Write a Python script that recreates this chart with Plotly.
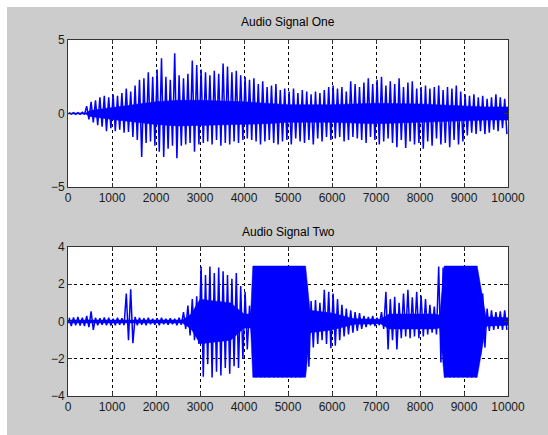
import plotly.graph_objects as go

# Per-bin (100 samples each) peak envelope
bin_size = 100
sig1_hi = [0.05, 0.06, 0.05, 0.08, 0.5, 0.8, 0.9, 1.1, 1.2, 1.1,
           1.3, 1.2, 1.4, 1.7, 1.5, 1.9, 2.3, 2.4, 2.8, 2.5,
           3.0, 3.75, 2.5, 2.3, 4.1, 2.6, 2.4, 2.7, 3.6, 3.3,
           3.0, 2.8, 2.6, 2.9, 2.7, 3.4, 3.2, 2.8, 2.9, 2.6,
           2.5, 2.3, 2.4, 2.0, 2.2, 1.8, 1.9, 2.0, 1.6, 1.7,
           1.5, 1.7, 1.4, 1.6, 1.5, 1.3, 1.5, 1.4, 1.6, 1.8,
           1.9, 1.7, 1.8, 1.5, 2.2, 2.0, 1.8, 2.1, 2.4, 2.0,
           2.3, 2.5, 1.9, 2.2, 2.0, 2.4, 1.8, 2.1, 2.2, 1.7,
           1.8, 1.9, 1.7, 1.8, 1.9, 1.6, 1.8, 1.7, 1.9, 1.5,
           1.3, 1.2, 1.3, 1.1, 1.2, 1.0, 1.1, 1.3, 1.1, 1.0]
sig1_lo = [-0.04, -0.06, -0.05, -0.07, -0.4, -0.6, -0.8, -0.9, -1.2, -1.0,
           -1.2, -1.1, -1.3, -1.25, -1.6, -1.8, -2.95, -2.0, -1.9, -2.2,
           -2.6, -2.95, -2.4, -2.2, -3.05, -2.2, -2.1, -2.0, -2.6, -2.1,
           -2.0, -1.9, -2.1, -1.8, -2.2, -2.0, -2.1, -1.9, -2.0, -1.8,
           -1.7, -1.8, -1.9, -2.1, -1.9, -1.8, -2.0, -2.1, -1.9, -1.8,
           -2.1, -1.7, -1.9, -2.0, -1.8, -2.1, -1.7, -1.9, -1.6, -1.8,
           -1.7, -1.6, -1.9, -1.8, -1.6, -1.7, -1.8, -2.0, -1.6, -1.8,
           -2.1, -1.9, -1.7, -2.0, -2.3, -1.8, -2.35, -1.9, -2.1, -2.0,
           -2.4, -1.9, -2.2, -1.7, -2.1, -2.0, -2.3, -1.8, -2.1, -1.9,
           -1.5, -1.3, -1.4, -1.2, -1.4, -1.3, -1.1, -1.2, -1.0, -1.4]

sig2_hi = [0.2, 0.22, 0.25, 0.2, 0.3, 0.55, 0.2, 0.18, 0.22, 0.2,
           0.15, 0.2, 0.18, 1.5, 1.73, 0.25, 0.2, 0.18, 0.2, 0.15,
           0.18, 0.2, 0.15, 0.18, 0.15, 0.2, 0.5, 0.85, 1.2, 1.35,
           2.95, 2.5, 2.95, 2.6, 2.9, 2.7, 2.5, 2.3, 2.6, 1.9,
           1.6, 0.85, 2.98, 2.98, 2.98, 2.98, 2.98, 2.98, 2.98, 2.98,
           2.98, 2.98, 2.98, 2.98, 1.96, 1.1, 1.15, 1.0, 1.7, 1.6,
           1.5, 1.2, 0.9, 0.7, 0.6, 0.5, 0.45, 0.3, 0.25, 0.3,
           0.2, 0.5, 1.6, 1.2, 1.33, 1.0, 1.5, 1.7, 1.3, 1.6,
           1.4, 1.2, 0.9, 0.8, 2.95, 2.9, 2.98, 2.98, 2.98, 2.98,
           2.98, 2.98, 2.98, 2.05, 1.5, 0.7, 0.6, 0.5, 0.55, 0.6]
sig2_lo = [-0.25, -0.2, -0.22, -0.25, -0.3, -0.45, -0.2, -0.18, -0.2, -0.22,
           -0.2, -0.18, -0.2, -1.0, -1.17, -0.2, -0.18, -0.2, -0.15, -0.18,
           -0.2, -0.15, -0.17, -0.15, -0.2, -0.18, -0.4, -0.75, -1.0, -1.2,
           -2.97, -2.3, -3.0, -2.7, -2.9, -2.5, -2.8, -2.4, -2.5, -2.0,
           -1.5, -0.6, -3.0, -3.0, -3.0, -3.0, -3.0, -3.0, -3.0, -3.0,
           -3.0, -3.0, -3.0, -2.9, -2.43, -1.4, -1.2, -1.0, -1.2, -1.44,
           -1.3, -1.0, -0.8, -0.7, -0.6, -0.5, -0.4, -0.3, -0.2, -0.25,
           -0.2, -0.4, -1.5, -1.0, -1.5, -0.9, -0.8, -0.9, -0.8, -0.9,
           -0.8, -0.7, -0.6, -0.7, -2.2, -3.0, -3.0, -3.0, -3.0, -3.0,
           -3.0, -3.0, -3.0, -1.8, -1.4, -0.5, -0.45, -0.4, -0.45, -0.45]

# Dense solid "core" of each signal (breakpoints)
core1_pos = [0, 400, 500, 1000, 1500, 2000, 2500, 3000, 4000, 4500, 5000, 6000, 7000, 8000, 9000, 9500, 10000]
core1_hi = [0.03, 0.03, 0.2, 0.4, 0.6, 0.8, 0.9, 0.9, 0.8, 0.7, 0.6, 0.6, 0.7, 0.65, 0.5, 0.45, 0.45]
core1_lo = [-0.03, -0.03, -0.2, -0.4, -0.6, -0.75, -0.85, -0.85, -0.75, -0.7, -0.6, -0.6, -0.7, -0.65, -0.5, -0.45, -0.45]

core2_pos = [0, 2600, 2800, 3000, 3700, 4000, 4150, 4200, 5400, 5500, 6000, 6500, 7100, 7300, 8300, 8450, 8550, 9300, 9500, 10000]
core2_hi = [0.08, 0.08, 0.4, 1.2, 1.0, 0.4, 0.4, 2.98, 2.98, 0.6, 0.45, 0.15, 0.12, 0.4, 0.4, 0.35, 2.98, 2.98, 0.25, 0.2]
core2_lo = [-0.08, -0.08, -0.4, -1.2, -1.0, -0.35, -0.35, -3.0, -3.0, -0.6, -0.45, -0.15, -0.12, -0.4, -0.4, -0.35, -3.0, -3.0, -0.25, -0.2]

x_ticks = list(range(0, 10001, 1000))
x_ticktext = [str(v) for v in x_ticks]
titles = ["Audio Signal One", "Audio Signal Two"]
BLUE = "#0000ff"


def zigzag(hi, lo):
    xs, ys = [], []
    for k, (h, l) in enumerate(zip(hi, lo)):
        xs += [k * bin_size + bin_size * 0.25, k * bin_size + bin_size * 0.75]
        ys += [h, l]
    return xs, ys


def band(pos, hi, lo):
    return pos + pos[::-1], hi + lo[::-1]


fig = go.Figure()
for (pos, hi, lo), ax, ay in [((core1_pos, core1_hi, core1_lo), "x", "y"),
                              ((core2_pos, core2_hi, core2_lo), "x2", "y2")]:
    bx, by = band(pos, hi, lo)
    fig.add_trace(go.Scatter(x=bx, y=by, mode="lines", fill="toself", fillcolor=BLUE,
                             line=dict(color=BLUE, width=0.5), xaxis=ax, yaxis=ay,
                             showlegend=False, hoverinfo="skip"))

x1, y1 = zigzag(sig1_hi, sig1_lo)
x2, y2 = zigzag(sig2_hi, sig2_lo)
fig.add_trace(go.Scatter(x=x1, y=y1, mode="lines", line=dict(color=BLUE, width=1.5),
                         xaxis="x", yaxis="y", showlegend=False))
fig.add_trace(go.Scatter(x=x2, y=y2, mode="lines", line=dict(color=BLUE, width=1.5),
                         xaxis="x2", yaxis="y2", showlegend=False))

axis_common = dict(
    showline=True, linecolor="#333333", linewidth=1, mirror="ticks",
    ticks="inside", ticklen=4, tickcolor="#333333",
    showgrid=True, gridcolor="black", gridwidth=1, griddash="3px,3px",
    zeroline=False, tickfont=dict(family="Liberation Sans, Arial", size=12, color="#1a1a1a"),
)

fig.update_layout(
    width=548, height=435,
    margin=dict(l=68, r=40, t=40, b=39),
    paper_bgcolor="#cccccc", plot_bgcolor="white",
    xaxis=dict(domain=[0, 1], range=[0, 10000], tickvals=x_ticks, ticktext=x_ticktext,
               anchor="y", **axis_common),
    yaxis=dict(domain=[0.5871, 1], range=[-5, 5], tickvals=[-5, 0, 5], anchor="x", **axis_common),
    xaxis2=dict(domain=[0, 1], range=[0, 10000], tickvals=x_ticks, ticktext=x_ticktext,
                anchor="y2", **axis_common),
    yaxis2=dict(domain=[0, 0.4185], range=[-4, 4], tickvals=[-4, -2, 0, 2, 4], anchor="x2", **axis_common),
    shapes=[
        dict(type="rect", xref="paper", yref="paper", x0=-0.2, x1=1.2,
             y0=1 + 33 / 356, y1=1.2, fillcolor="white", line=dict(width=0), layer="above"),
        dict(type="rect", xref="paper", yref="paper", x0=-0.2, x1=-61 / 440,
             y0=-0.2, y1=1.2, fillcolor="white", line=dict(width=0), layer="above"),
    ],
    annotations=[
        dict(text=titles[0], xref="paper", yref="paper", x=0.5, y=1, yshift=9,
             xanchor="center", yanchor="bottom", showarrow=False,
             font=dict(family="Liberation Sans, Arial", size=12, color="black")),
        dict(text=titles[1], xref="paper", yref="paper", x=0.5, y=0.4185, yshift=6,
             xanchor="center", yanchor="bottom", showarrow=False,
             font=dict(family="Liberation Sans, Arial", size=12, color="black")),
    ],
)

fig.write_html("out.html", config={"displayModeBar": False},
               post_script="document.body.style.margin='0';")
